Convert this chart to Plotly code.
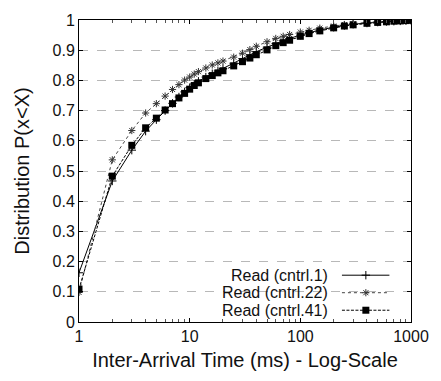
import plotly.graph_objects as go

x_ms = [1, 2, 3, 4, 5, 6, 7, 8, 9, 10, 11, 12, 14, 16, 18, 20, 25, 30, 35, 40, 50, 60, 70, 80, 100,
        120, 150, 200, 250, 300, 400, 500, 600, 700, 800, 900, 1000]

read_cntrl1 = [0.163, 0.467, 0.569, 0.632, 0.670, 0.700, 0.724, 0.745, 0.762, 0.776, 0.788, 0.797, 0.811,
               0.822, 0.831, 0.839, 0.857, 0.872, 0.885, 0.895, 0.910, 0.922, 0.931, 0.939, 0.950,
               0.958, 0.967, 0.976, 0.982, 0.986, 0.990, 0.993, 0.995, 0.996, 0.997, 0.998, 0.999]
read_cntrl22 = [0.098, 0.537, 0.634, 0.692, 0.723, 0.748, 0.770, 0.786, 0.801, 0.811, 0.821, 0.829, 0.841,
                0.851, 0.858, 0.864, 0.877, 0.890, 0.902, 0.913, 0.928, 0.939, 0.946, 0.952, 0.960,
                0.966, 0.973, 0.980, 0.985, 0.988, 0.992, 0.994, 0.996, 0.997, 0.998, 0.998, 0.999]
read_cntrl41 = [0.109, 0.483, 0.585, 0.643, 0.675, 0.702, 0.723, 0.742, 0.757, 0.771, 0.783, 0.792, 0.806,
                0.816, 0.825, 0.832, 0.848, 0.862, 0.874, 0.885, 0.901, 0.915, 0.925, 0.933, 0.946,
                0.955, 0.964, 0.974, 0.980, 0.984, 0.989, 0.992, 0.994, 0.996, 0.997, 0.998, 0.999]

series_names = ["Read (cntrl.1)", "Read (cntrl.22)", "Read (cntrl.41)"]
x_ticks = [1, 10, 100, 1000]
x_ticktext = ["1", "10", "100", "1000"]
x_minor = [2, 3, 4, 5, 6, 7, 8, 9, 20, 30, 40, 50, 60, 70, 80, 90, 200, 300, 400, 500, 600, 700, 800, 900]
y_ticks = [0, 0.1, 0.2, 0.3, 0.4, 0.5, 0.6, 0.7, 0.8, 0.9, 1]
y_ticktext = ["0", "0.1", "0.2", "0.3", "0.4", "0.5", "0.6", "0.7", "0.8", "0.9", "1"]

FONT = "Liberation Sans, Arial, Helvetica, sans-serif"

styles = [
    dict(line=dict(color="black", width=1, dash="solid"),
         marker=dict(symbol="cross-thin-open", size=6, color="black", line=dict(color="black", width=1))),
    dict(line=dict(color="#444444", width=1, dash="dot"),
         marker=dict(symbol="asterisk-open", size=6, color="#333333", line=dict(color="#333333", width=1))),
    dict(line=dict(color="black", width=1, dash="3px,1.5px"),
         marker=dict(symbol="square", size=7, color="black", line=dict(width=0))),
]

fig = go.Figure()
for name, ys, st in zip(series_names, [read_cntrl1, read_cntrl22, read_cntrl41], styles):
    fig.add_trace(go.Scatter(x=x_ms, y=ys, mode="lines+markers", name=name,
                             line=st["line"], marker=st["marker"], showlegend=False,
                             xaxis="x", yaxis="y"))

# Legend box (white background) and samples on overlay axes in [0,1] space
legend_rows = [0.155, 0.097, 0.039]
fig.add_shape(type="rect", xref="x2", yref="y2", x0=0.275, x1=0.964, y0=0.008, y1=0.182,
              fillcolor="white", line=dict(width=0), layer="below")
for name, yrow, st in zip(series_names, legend_rows, styles):
    fig.add_trace(go.Scatter(x=[0.792, 0.935], y=[yrow, yrow], mode="lines",
                             line=st["line"], showlegend=False, xaxis="x2", yaxis="y2",
                             hoverinfo="skip"))
    fig.add_trace(go.Scatter(x=[0.864], y=[yrow], mode="markers",
                             marker=st["marker"], showlegend=False, xaxis="x2", yaxis="y2",
                             hoverinfo="skip"))
    fig.add_annotation(xref="x2", yref="y2", x=0.757, y=yrow, text=name, showarrow=False,
                       xanchor="right", yanchor="middle",
                       font=dict(family=FONT, size=16, color="#111111"))

fig.update_layout(
    width=441, height=381,
    margin=dict(l=79, r=24, t=13.5, b=59),
    paper_bgcolor="white", plot_bgcolor="white",
    font=dict(family=FONT, size=16, color="#111111"),
    xaxis=dict(type="log", range=[0, 3], tickvals=x_ticks, ticktext=x_ticktext,
               ticks="inside", ticklen=4, tickcolor="black", showline=True, linecolor="black",
               linewidth=1, mirror="ticks", showgrid=False, zeroline=False,
               minor=dict(tickvals=x_minor, ticks="inside", ticklen=3, tickcolor="#555555",
                          showgrid=False),
               title=dict(text="Inter-Arrival Time (ms) - Log-Scale", font=dict(size=20), standoff=8),
               tickfont=dict(size=16)),
    yaxis=dict(range=[0, 1], tickvals=y_ticks, ticktext=y_ticktext, ticks="inside", ticklen=4,
               tickcolor="black", showline=True, linecolor="black", linewidth=1, mirror="ticks",
               showgrid=True, gridcolor="#b8b8b8", griddash="dash", gridwidth=1, zeroline=False,
               title=dict(text="Distribution P(x<X)", font=dict(size=20), standoff=17),
               tickfont=dict(size=16)),
    xaxis2=dict(range=[0, 1], overlaying="x", visible=False, fixedrange=True),
    yaxis2=dict(range=[0, 1], overlaying="y", visible=False, fixedrange=True),
    showlegend=False,
)

fig.write_html("out.html")
